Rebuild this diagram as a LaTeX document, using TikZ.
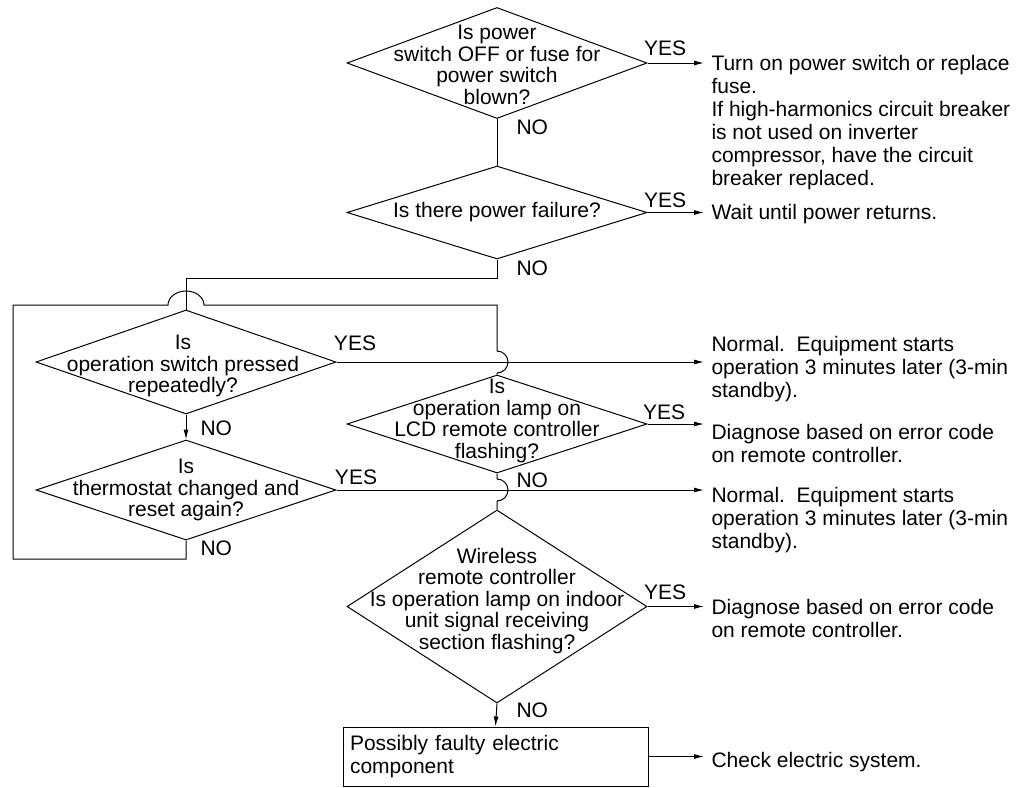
\documentclass[tikz,border=0pt]{standalone}
\usepackage{fontspec}
\setmainfont{Liberation Sans}
\usetikzlibrary{shapes.geometric,arrows.meta}

\begin{document}
\begin{tikzpicture}[x=1pt,y=-1pt,line width=1pt,
  decision/.style={draw,diamond,inner sep=0pt,minimum width=300pt,minimum height=#1},
  qtext/.style={align=center,inner sep=0pt,font=\fontsize{21}{21.5}\selectfont},
  note/.style={anchor=north west,align=left,inner sep=0pt,font=\fontsize{21}{23}\selectfont},
  tag/.style={inner sep=0pt,font=\fontsize{21}{21}\selectfont},
  arr/.style={-{Latex[length=10pt,width=5pt]}},
  tonote/.style={arr,shorten >=7pt}]
\path[use as bounding box] (0,0) rectangle (1032,787);
% decisions
\node[decision=111pt] (d1) at (497,63) {};
\node[qtext] (q1) at (497,65) {Is power\\switch OFF or fuse for\\power switch\\blown?};
\node[decision=93pt] (d2) at (497,212.5) {};
\node[qtext] (q2) at (497,212) {Is there power failure?};
\node[decision=104pt] (d3) at (186,362) {};
\node[qtext] (q3) at (183,366) {Is\\operation switch pressed\\repeatedly?};
\node[decision=100pt] (d4) at (186,490) {};
\node[qtext] (q4) at (186,490) {Is\\thermostat changed and\\reset again?};
\node[decision=98pt] (d5) at (497,424) {};
\node[qtext] (q5) at (497,421) {Is\\operation lamp on\\LCD remote controller\\flashing?};
\node[decision=193pt] (d6) at (497,606.5) {};
\node[qtext] (q6) at (497,601) {Wireless\\remote controller\\Is operation lamp on indoor\\unit signal receiving\\section flashing?};
\node[draw,minimum width=305pt,minimum height=59pt,inner xsep=7pt,inner ysep=0pt,text width=291pt,align=left,font=\fontsize{21}{23}\selectfont] (box) at (495.5,756.5) {Possibly faulty electric\\component};
% remedies
\node[note] (tA) at (711,55) {Turn on power switch or replace\\fuse.\\If high-harmonics circuit breaker\\is not used on inverter\\compressor, have the circuit\\breaker replaced.};
\node[note] (tB) at (711,204) {Wait until power returns.};
\node[note] (tC) at (711,336) {Normal.\ \ Equipment starts\\operation 3 minutes later (3-min\\standby).};
\node[note] (tD) at (711,424) {Diagnose based on error code\\on remote controller.};
\node[note] (tE) at (711,487) {Normal.\ \ Equipment starts\\operation 3 minutes later (3-min\\standby).};
\node[note] (tF) at (711,599) {Diagnose based on error code\\on remote controller.};
\node[note] (tG) at (711,752) {Check electric system.};
% yes / no
\node[tag] (y1) at (665,48) {YES};
\node[tag] (y2) at (665,200) {YES};
\node[tag] (y3) at (355,343) {YES};
\node[tag] (y4) at (664,412) {YES};
\node[tag] (y5) at (356,477) {YES};
\node[tag] (y6) at (665,592) {YES};
\node[tag,anchor=west] (n1) at (516,127) {NO};
\node[tag,anchor=west] (n2) at (516,268) {NO};
\node[tag,anchor=west] (n3) at (200,428) {NO};
\node[tag,anchor=west] (n4) at (200,548) {NO};
\node[tag,anchor=west] (n5) at (516,480) {NO};
\node[tag,anchor=west] (n6) at (516,710) {NO};
% flow
\draw (d1.south) -- (d2.north);
\draw (d2.south) -- (497,278) -- (186,278) -- (d3.north);
\draw[arr] (d3.south) -- (d4.north);
\draw (d4.south) -- (186,559) -- (13,559) -- (13,305) -- (168,305)
  arc[start angle=180,end angle=0,x radius=18pt,y radius=14pt] -- (497,305) -- (497,351)
  arc[start angle=90,end angle=-90,radius=11pt] -- (d5.north);
\draw (d5.south) -- (497,479) arc[start angle=90,end angle=-90,radius=11pt] -- (d6.north);
\draw[arr] (d6.south) -- (box.north);
\draw[tonote] (d1.east) -- (d1.east -| tA.west);
\draw[tonote] (d2.east) -- (d2.east -| tB.west);
\draw[tonote] (d3.east) -- (d3.east -| tC.west);
\draw[tonote] (d5.east) -- (d5.east -| tD.west);
\draw[tonote] (d4.east) -- (d4.east -| tE.west);
\draw[tonote] (d6.east) -- (d6.east -| tF.west);
\draw[tonote] (box.east) -- (box.east -| tG.west);
\end{tikzpicture}
\end{document}
